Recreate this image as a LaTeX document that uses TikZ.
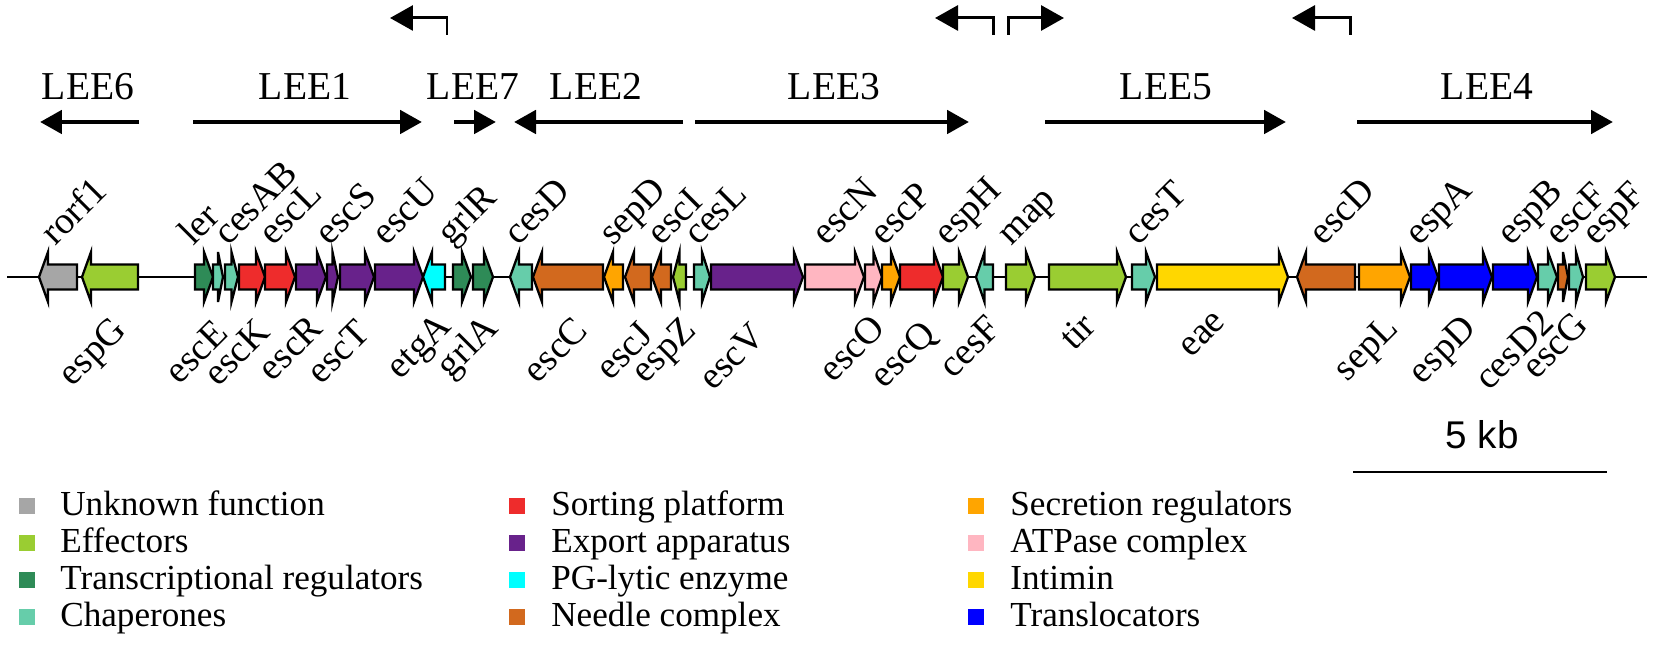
\documentclass[tikz,border=0pt]{standalone}
\usepackage{fontspec}
\setmainfont{Liberation Serif}
\newfontfamily\arialfont{Liberation Sans}
\usetikzlibrary{arrows.meta}

\definecolor{unk}{HTML}{A6A6A6}
\definecolor{eff}{HTML}{9ACD32}
\definecolor{treg}{HTML}{2E8B57}
\definecolor{chap}{HTML}{66CDAA}
\definecolor{sort}{HTML}{EE2C2C}
\definecolor{expo}{HTML}{68228B}
\definecolor{pgl}{HTML}{00FFFF}
\definecolor{ndl}{HTML}{D2691E}
\definecolor{sreg}{HTML}{FFA500}
\definecolor{atp}{HTML}{FFB6C1}
\definecolor{intim}{HTML}{FFD700}
\definecolor{trans}{HTML}{0000FF}

\tikzset{
  gene/.style={draw=black,line width=1.3pt,line join=miter},
  lee/.style={line width=2.8pt,-{Triangle[length=0.44cm,width=0.46cm]}},
  prom/.style={line width=1.7pt,line join=miter,-{Triangle[length=0.46cm,width=0.5cm]}},
  toplab/.style={rotate=45,anchor=base west,inner sep=0pt,font=\fontsize{21.5}{25}\selectfont},
  botlab/.style={rotate=45,anchor=base east,inner sep=0pt,font=\fontsize{21.5}{25}\selectfont},
  leelab/.style={anchor=base,inner sep=0pt,font=\fontsize{22.5}{26}\selectfont},
  keytext/.style={anchor=base west,inner sep=0pt},
}

% gene arrow: tail, tip, colour
\newcommand{\genearrow}[3]{%
  \pgfmathsetmacro{\hb}{#2-sign(#2-#1)*min(9,0.5*abs(#2-#1))}
  \draw[gene,fill=#3] (#1,264.5)--(\hb,264.5)--(\hb,252)--(#2,277)--(\hb,302)--(\hb,289.5)--(#1,289.5)--cycle;
}

\begin{document}
\begin{tikzpicture}[>=latex,x=0.02cm,y=-0.02cm,font=\fontsize{20}{24}\selectfont]
    \useasboundingbox (0,0) rectangle (1654,661);

    % promoters
    \draw[prom] (447,35) |- (390,18);
    \draw[prom] (993,35) |- (935,18);
    \draw[prom] (1008,35) |- (1064,18);
    \draw[prom] (1350,35) |- (1292,18);

    % operons
    \draw[lee] (139,122)--(40,122);   \node[leelab] (lee6) at (88,100) {LEE6};
    \draw[lee] (193,122)--(422,122);  \node[leelab] (lee1) at (305,100) {LEE1};
    \draw[lee] (454,122)--(496,122);  \node[leelab] (lee7) at (473,100) {LEE7};
    \draw[lee] (683,122)--(514,122);  \node[leelab] (lee2) at (596,100) {LEE2};
    \draw[lee] (695,122)--(969,122);  \node[leelab] (lee3) at (834,100) {LEE3};
    \draw[lee] (1045,122)--(1286,122); \node[leelab] (lee5) at (1166,100) {LEE5};
    \draw[lee] (1357,122)--(1613,122); \node[leelab] (lee4) at (1487,100) {LEE4};

    % backbone and genes
    \draw[line width=1.4pt] (7,277)--(1647,277);
    \foreach \ta/\tp/\col in {77/39/unk, 138/82/eff, 195/213/treg, 213/223/chap, 225/238/chap,
        239/265/sort, 265/295/sort, 296/326/expo, 327/338/expo, 340/374/expo, 375/423/expo,
        445/423/pgl, 453/471/treg, 473/493/treg, 532/510/chap, 603/533/ndl, 623/604/sreg,
        651/625/ndl, 671/652/ndl, 686/673/eff, 694/710/chap, 711/803/expo, 805/864/atp,
        865/882/atp, 882/900/sreg, 900/943/sort, 943/968/eff, 993/976/chap, 1006/1035/eff,
        1049/1126/eff, 1132/1155/chap, 1157/1288/intim, 1355/1297/ndl, 1359/1410/sreg,
        1411/1438/trans, 1439/1492/trans, 1493/1537/trans, 1538/1557/chap, 1558/1568/ndl,
        1569/1583/chap, 1586/1615/eff}
        \genearrow{\ta}{\tp}{\col};

    % gene names
    \foreach \x/\t in {55/rorf1, 193/ler, 228/cesAB, 273/escL, 329/escS, 386/escU, 451/grlR,
        518/cesD, 613/sepD, 661/escI, 698/cesL, 826/escN, 884/escP, 948/espH, 1011/map,
        1138/cesT, 1323/escD, 1419/espA, 1511/espB, 1559/escF, 1596/espF}
        \node[toplab] (\t) at (\x,247) {\t};
    \foreach \x/\y/\t in {128/332/espG, 230/335/escE, 272/334/escK, 325/330/escR, 372/335/escT,
        453/328/etgA, 500/330/grlA, 590/332/escC, 655/337/escJ, 698/332/espZ, 767/338/escV,
        887/330/escO, 938/336/escQ, 1003/330/cesF, 1098/328/tir, 1227/323/eae, 1400/330/sepL,
        1478/330/espD, 1556/325/cesD2, 1590/327/escG}
        \node[botlab] (\t) at (\x,\y) {\t};

    % scale bar
    \draw[line width=1.7pt] (1353,472)--(1607,472);
    \node[anchor=base,font=\arialfont\fontsize{22}{26}\selectfont] (kb) at (1482,449) {5 kb};

    % legend
    \foreach \c/\t [count=\i from 0] in {unk/Unknown function, eff/Effectors,
        treg/Transcriptional regulators, chap/Chaperones}{
        \fill[\c] (19,{498+37*\i}) rectangle ++(16,16);
        \node[keytext] (keya\i) at (60,{516+37*\i}) {\t};
    }
    \foreach \c/\t [count=\i from 0] in {sort/Sorting platform, expo/Export apparatus,
        pgl/PG-lytic enzyme, ndl/Needle complex}{
        \fill[\c] (509,{498+37*\i}) rectangle ++(16,16);
        \node[keytext] (keyb\i) at (551,{516+37*\i}) {\t};
    }
    \foreach \c/\t [count=\i from 0] in {sreg/Secretion regulators, atp/ATPase complex,
        intim/Intimin, trans/Translocators}{
        \fill[\c] (968,{498+37*\i}) rectangle ++(16,16);
        \node[keytext] (keyc\i) at (1010,{516+37*\i}) {\t};
    }

\end{tikzpicture}
\end{document}
